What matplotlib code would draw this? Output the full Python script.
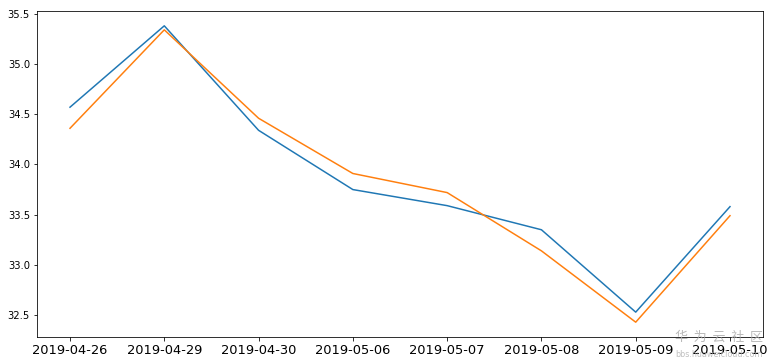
import matplotlib
matplotlib.use('Agg')
import matplotlib.pyplot as plt

dates = ['2019-04-26', '2019-04-29', '2019-04-30', '2019-05-06',
         '2019-05-07', '2019-05-08', '2019-05-09', '2019-05-10']
blue = [34.57, 35.38, 34.34, 33.75, 33.59, 33.35, 32.53, 33.58]
orange = [34.36, 35.34, 34.46, 33.91, 33.72, 33.14, 32.43, 33.49]

fig = plt.figure(figsize=(773 / 72, 364 / 72), dpi=72)
ax = fig.add_axes([37 / 773, 27 / 364, 726 / 773, 326 / 364])
ax.plot(dates, blue)
ax.plot(dates, orange)
ax.tick_params(axis='x', labelsize=13)
ax.tick_params(axis='y', labelsize=10)

# watermark
fig.text(0.987, 0.055, '华  为  云  社  区', ha='right', va='bottom', fontsize=13,
         color='#a8a8a8', alpha=0.8, family=['Noto Sans CJK SC', 'DejaVu Sans'])
fig.text(0.873, 0.015, 'bbs.huaweicloud.com', ha='left', va='bottom', fontsize=8,
         color='#b0b0b0', alpha=0.8)

fig.savefig('out.png', dpi=72)
